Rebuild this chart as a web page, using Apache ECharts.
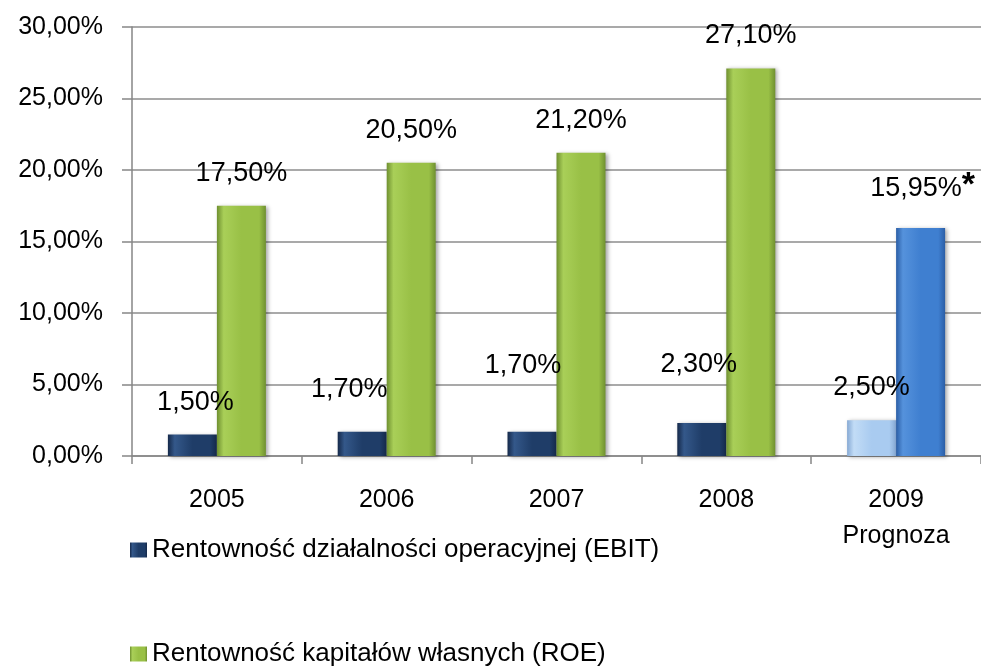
<!DOCTYPE html>
<html>
<head>
<meta charset="utf-8">
<script src="https://cdn.jsdelivr.net/npm/echarts@6/dist/echarts.min.js"></script>
<style>
  html, body { margin: 0; padding: 0; background: #fff; }
  #chart { width: 981px; height: 667px; }
</style>
</head>
<body>
<div id="chart"></div>
<script>
const years = ['2005', '2006', '2007', '2008', '2009\nPrognoza'];
const ebit = [1.5, 1.7, 1.7, 2.3, 2.5];
const roe = [17.5, 20.5, 21.2, 27.1, 15.95];
const seriesNames = ['Rentowność działalności operacyjnej (EBIT)', 'Rentowność kapitałów własnych (ROE)'];

const FONT = '"Liberation Sans", Arial, sans-serif';
const fmt = (v) => v.toFixed(2).replace('.', ',') + '%';

// bevel-ish look: dark edges, lighter middle
function bevel(edge, mid, light) {
  return {
    type: 'linear', x: 0, y: 0, x2: 1, y2: 0,
    colorStops: [
      { offset: 0, color: edge },
      { offset: 0.14, color: light },
      { offset: 0.5, color: mid },
      { offset: 0.86, color: mid },
      { offset: 1, color: edge },
    ],
  };
}

const navy = bevel('#15294a', '#1f3d68', '#34588a');
const green = bevel('#6f9030', '#99c046', '#a9cf58');
const lightBlue = bevel('#86a9d4', '#a9cbf0', '#c2dcf6');
const blue = bevel('#2b5ea6', '#3f7fd0', '#5592dc');

// manual nudges of the EBIT labels (as in the source chart)
const ebitShift = [[3, 0], [-13, -10], [-9, -34], [-3, -26], [0, 0]];

const shadow = {
  shadowColor: 'rgba(0,0,0,0.35)',
  shadowBlur: 4,
  shadowOffsetX: 2,
  shadowOffsetY: 1,
};

const legendBase = {
  left: 125,
  itemWidth: 17,
  itemHeight: 15,
  itemGap: 8,
  icon: 'rect',
  textStyle: { fontFamily: FONT, fontSize: 26, color: '#000', lineHeight: 30 },
};

const chart = echarts.init(document.getElementById('chart'));
chart.setOption({
  backgroundColor: '#fff',
  animation: false,
  textStyle: { fontFamily: FONT, color: '#000' },
  grid: { left: 132, top: 27, width: 850, height: 429, containLabel: false },
  legend: [
    Object.assign({ top: 530, data: [seriesNames[0]] }, legendBase),
    Object.assign({ top: 634, data: [seriesNames[1]] }, legendBase),
  ],
  xAxis: {
    type: 'category',
    data: years,
    axisLine: { lineStyle: { color: '#868686', width: 1.5 } },
    axisTick: { show: true, length: 8, lineStyle: { color: '#868686', width: 1.5 } },
    axisLabel: { fontSize: 25, color: '#000', margin: 26, lineHeight: 36, fontFamily: FONT },
  },
  yAxis: {
    type: 'value',
    min: 0,
    max: 30,
    interval: 5,
    axisLine: { show: true, lineStyle: { color: '#868686', width: 1.5 } },
    axisTick: { show: true, length: 10, lineStyle: { color: '#868686', width: 1.5 } },
    splitLine: { lineStyle: { color: '#8c8c8c', width: 1.5 } },
    axisLabel: { fontSize: 25, color: '#000', margin: 29, fontFamily: FONT, formatter: fmt },
  },
  series: [
    {
      name: seriesNames[0],
      type: 'bar',
      barWidth: 49,
      barGap: '0%',
      itemStyle: Object.assign({ color: navy }, shadow),
      data: ebit.map((v, i) => ({
        value: v,
        itemStyle: i === 4 ? { color: lightBlue } : undefined,
        label: { offset: ebitShift[i] },
      })),
      label: {
        show: true,
        position: 'top',
        distance: 19,
        fontSize: 27,
        color: '#000',
        fontFamily: FONT,
        formatter: (p) => fmt(p.value),
      },
    },
    {
      name: seriesNames[1],
      type: 'bar',
      barWidth: 49,
      barGap: '0%',
      itemStyle: Object.assign({ color: green }, shadow),
      data: roe.map((v, i) => ({
        value: v,
        itemStyle: i === 4 ? { color: blue } : undefined,
        label: i === 4 ? {
          offset: [2, 0],
          formatter: (p) => '{a|' + fmt(p.value) + '}{s|*}',
        } : undefined,
      })),
      label: {
        show: true,
        position: 'top',
        distance: 19,
        fontSize: 27,
        color: '#000',
        fontFamily: FONT,
        formatter: (p) => fmt(p.value),
        rich: {
          a: { fontSize: 27, color: '#000', fontFamily: FONT },
          s: { fontSize: 34, fontWeight: 'bold', color: '#000', fontFamily: FONT, verticalAlign: 'top', padding: [0, 0, 6, 0] },
        },
      },
    },
  ],
});
</script>
</body>
</html>
